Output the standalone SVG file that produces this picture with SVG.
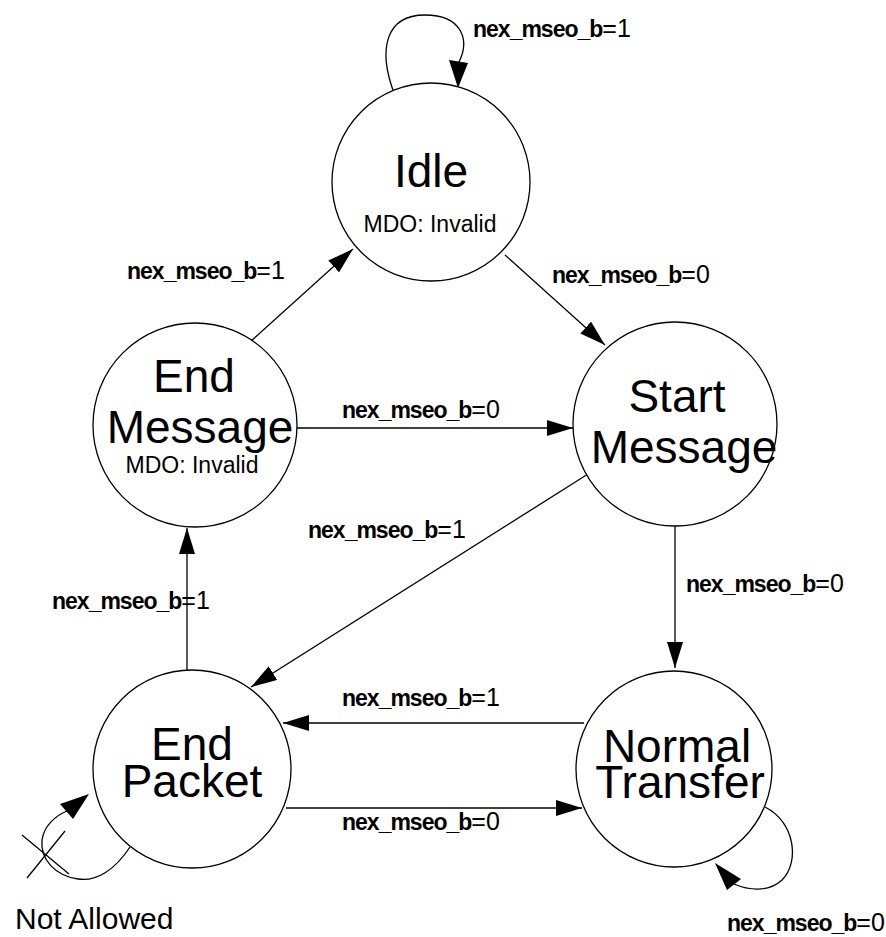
<svg xmlns="http://www.w3.org/2000/svg" width="886" height="937" viewBox="0 0 886 937">
<style>
  .st { fill: #fff; stroke: #000; stroke-width: 1.3; }
  .nm { font-family: "Liberation Sans", Arial, sans-serif; font-size: 46px; text-anchor: middle; fill: #000; }
  .sm { font-family: "Liberation Sans", Arial, sans-serif; font-size: 23px; text-anchor: middle; fill: #000; }
  .lbl { font-family: "Liberation Sans", Arial, sans-serif; fill: #000; }
  .b { font-weight: bold; font-size: 23px; letter-spacing: -1px; }
  .v { font-size: 25px; }
  .ed { fill: none; stroke: #000; stroke-width: 1.3; }
  .ah { fill: #000; stroke: none; }
</style>
<defs>
  <marker id="ah" markerWidth="26" markerHeight="16" refX="26" refY="8" orient="auto" markerUnits="userSpaceOnUse">
    <path d="M0,0 L26,8 L0,16 Z" fill="#000"/>
  </marker>
</defs>

<g id="connectors">
  <!-- Idle self loop -->
  <path class="ed" d="M394,93 C378,50 385,15 425,15 C462,15 470,40 459,62"/>
  <polygon class="ah" points="458,88 449,60 468,63"/>
  <!-- End Message -> Idle -->
  <path class="ed" d="M250,342 L353,249" marker-end="url(#ah)"/>
  <!-- Idle -> Start Message -->
  <path class="ed" d="M505,255 L605,345" marker-end="url(#ah)"/>
  <!-- End Message -> Start Message -->
  <path class="ed" d="M297,428 L573,428" marker-end="url(#ah)"/>
  <!-- Start Message -> End Packet -->
  <path class="ed" d="M588,474 L251,687" marker-end="url(#ah)"/>
  <!-- Start Message -> Normal Transfer -->
  <path class="ed" d="M675,526 L675,668" marker-end="url(#ah)"/>
  <!-- End Packet -> End Message -->
  <path class="ed" d="M187,670 L187,528" marker-end="url(#ah)"/>
  <!-- Normal Transfer -> End Packet -->
  <path class="ed" d="M584,723 L283,723" marker-end="url(#ah)"/>
  <!-- End Packet -> Normal Transfer -->
  <path class="ed" d="M286,808 L582,808" marker-end="url(#ah)"/>
  <!-- Normal Transfer self loop -->
  <path class="ed" d="M765,807 C795,822 800,862 782,880 C768,893 748,890 734,884"/>
  <polygon class="ah" points="715,863 741,879 727,890"/>
  <!-- End Packet self loop (not allowed) -->
  <path class="ed" d="M130,847 C115,870 96,882 78,879 C56,876 40,860 42,840 C44,826 55,816 67,811"/>
  <polygon class="ah" points="89,794 60,804 73,819"/>
  <line class="ed" x1="22" y1="835" x2="69" y2="874"/>
  <line class="ed" x1="27" y1="878" x2="65" y2="831"/>
</g>

<g id="labels">
  <text class="lbl" x="473" y="37"><tspan class="b">nex_mseo_b</tspan><tspan class="v">=1</tspan></text>
  <text class="lbl" x="127" y="279"><tspan class="b">nex_mseo_b</tspan><tspan class="v">=1</tspan></text>
  <text class="lbl" x="552" y="283"><tspan class="b">nex_mseo_b</tspan><tspan class="v">=0</tspan></text>
  <text class="lbl" x="342" y="418"><tspan class="b">nex_mseo_b</tspan><tspan class="v">=0</tspan></text>
  <text class="lbl" x="308" y="538"><tspan class="b">nex_mseo_b</tspan><tspan class="v">=1</tspan></text>
  <text class="lbl" x="686" y="592"><tspan class="b">nex_mseo_b</tspan><tspan class="v">=0</tspan></text>
  <text class="lbl" x="52" y="609"><tspan class="b">nex_mseo_b</tspan><tspan class="v">=1</tspan></text>
  <text class="lbl" x="342" y="706"><tspan class="b">nex_mseo_b</tspan><tspan class="v">=1</tspan></text>
  <text class="lbl" x="342" y="830"><tspan class="b">nex_mseo_b</tspan><tspan class="v">=0</tspan></text>
  <text class="lbl" x="727" y="931"><tspan class="b">nex_mseo_b</tspan><tspan class="v">=0</tspan></text>
  <text class="lbl" x="15" y="929" font-size="30">Not Allowed</text>
</g>

<g id="idle">
  <circle class="st" cx="431" cy="182" r="99"/>
  <text class="nm" x="431" y="187">Idle</text>
  <text class="sm" x="430" y="232">MDO: Invalid</text>
</g>
<g id="end-message">
  <circle class="st" cx="195" cy="425" r="102"/>
  <text class="nm"><tspan x="194" y="392">End</tspan><tspan x="200" y="443">Message</tspan></text>
  <text class="sm" x="192" y="473">MDO: Invalid</text>
</g>
<g id="start-message">
  <circle class="st" cx="675" cy="424" r="102"/>
  <text class="nm"><tspan x="677" y="412">Start</tspan><tspan x="684" y="463">Message</tspan></text>
</g>
<g id="normal-transfer">
  <circle class="st" cx="674" cy="769" r="98"/>
  <text class="nm" font-size="45"><tspan x="677" y="762">Normal</tspan><tspan x="680" y="798">Transfer</tspan></text>
</g>
<g id="end-packet">
  <circle class="st" cx="192" cy="769" r="99"/>
  <text class="nm" font-size="41"><tspan x="192" y="760">End</tspan><tspan x="192" y="797">Packet</tspan></text>
</g>
</svg>
